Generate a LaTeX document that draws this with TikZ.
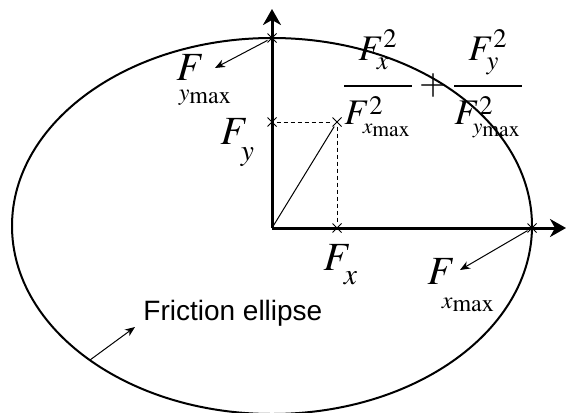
\documentclass[tikz,border=0pt]{standalone}
\usepackage{amsmath}
\usepackage{mathptmx}
\usepackage{fontspec}
\newfontfamily\labelfont{Liberation Sans}
\usetikzlibrary{arrows.meta, shapes.misc, positioning}
% subscripts set lower than usual
\newcommand{\lowsub}[2][0pt]{_{\raisebox{-#1}{$\scriptstyle #2$}}}
\newcommand{\maxsub}[2][0pt]{_{\kern-3pt\raisebox{-#1}{$\scriptscriptstyle #2_{\mathrm{max}}$}}}

\begin{document}
\begin{tikzpicture}[
        x=0.5pt, y=-0.5pt,
        axis/.style={
            -{Stealth[length=8pt, width=9pt, inset=2.5pt]},
            line width=1.5pt
        },
        pointer/.style={
            -{Stealth[length=5pt, width=4pt]},
            line width=0.5pt
        },
        xmark/.style={
            cross out,
            draw,
            minimum size=4pt,
            inner sep=0pt,
            line width=0.5pt
        },
        guide/.style={
            line width=0.5pt,
            dash pattern=on 2pt off 1.5pt
        },
        sym/.style={
            font=\fontsize{20}{22}\selectfont,
            inner sep=0pt
        }
    ]

    \clip (0,0) rectangle (566,412);

    % Friction ellipse
    \draw[line width=1pt] (272,226) ellipse [x radius=260, y radius=188];

    % Axes
    \coordinate (O) at (272,228);
    \coordinate (ytip) at (272,9);
    \coordinate (xtip) at (566,228);
    \draw[axis] (O) -- (ytip);
    \draw[axis] (O) -- (xtip);

    % Marks
    \node[xmark] (ymax) at (272,38) {};
    \node[xmark] (xmax) at (532,228) {};
    \node[xmark] (P) at (337,122) {};
    \node[xmark] (fx) at (337,228) {};
    \node[xmark] (fy) at (272,122) {};

    % Force vector and its components
    \draw[line width=0.5pt] (O) -- (P);
    \draw[guide] (fy) -- (P) -- (fx);

    % Labels
    \node[sym, anchor=base west] (ymaxlbl) at (176,80) {$F\maxsub[7pt]{\kern-6pt y}$};
    \node[sym, anchor=base west] (fylbl) at (220,144) {$F\lowsub[5pt]{y}$};
    \node[sym, anchor=base west] (fxlbl) at (323,270) {$F\lowsub[4pt]{x}$};
    \node[sym, anchor=base west] (xmaxlbl) at (427,284) {$F\maxsub[9pt]{x}$};
    \node[sym, font=\fontsize{18}{20}\selectfont] (eq) at (433,84) {$\dfrac{F_x^2\rule[-10pt]{0pt}{10pt}}{\rule{0pt}{17pt}F^2_{\scriptscriptstyle x_{\mathrm{max}}}}+\dfrac{F_y^2\rule[-10pt]{0pt}{10pt}}{\rule{0pt}{17pt}F^2_{\scriptscriptstyle y_{\mathrm{max}}}}$};
    \node[font=\labelfont\fontsize{14}{16}\selectfont, inner sep=0pt, anchor=base west] (ell) at (143,320) {Friction ellipse};

    % Pointers
    \coordinate (ymaxtip) at (215,68);
    \coordinate (xmaxtip) at (460,270);
    \coordinate (ellfoot) at (90,360);
    \coordinate (elltip) at (135,327);
    \draw[pointer] (ymax) -- (ymaxtip);
    \draw[pointer] (xmax) -- (xmaxtip);
    \draw[pointer] (ellfoot) -- (elltip);

\end{tikzpicture}
\end{document}
